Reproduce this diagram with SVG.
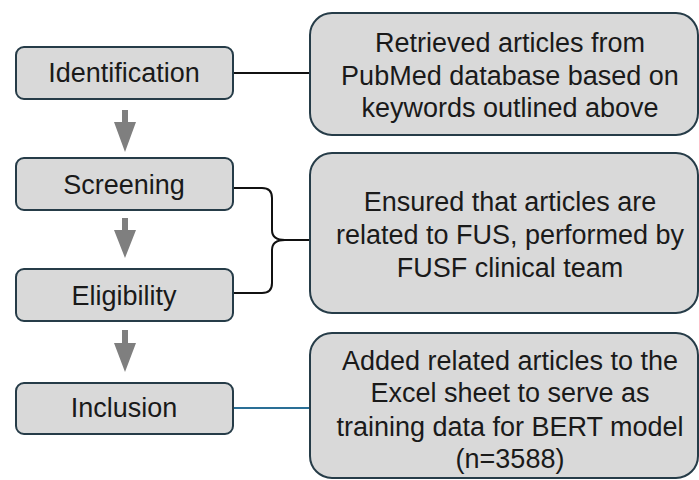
<svg xmlns="http://www.w3.org/2000/svg" width="699" height="480" viewBox="0 0 699 480">
<style>
.box{fill:#d9d9d9;stroke:#263c48;stroke-width:2}
.t{font-family:"Liberation Sans",Arial,sans-serif;font-size:27px;fill:#1a1a1a;text-anchor:middle}
.arr{fill:#7f7f7f}
.c{fill:none;stroke-width:2}
</style>
<rect width="699" height="480" fill="#ffffff"/>
<g id="connectors">
<path class="c" stroke="#111" d="M233,73 H310"/>
<path class="c" stroke="#111" d="M233,188 H262 Q272,188 272,198 V230 Q272,240 285,240 H310"/>
<path class="c" stroke="#111" d="M233,293 H262 Q272,293 272,283 V250 Q272,240 285,240"/>
<path class="c" stroke="#2a6f96" d="M233,408 H310"/>
<polygon class="arr" points="122,110 128,110 128,122 136,122 125,152 114,122 122,122"/>
<polygon class="arr" points="122,218 128,218 128,230 136,230 125,258 114,230 122,230"/>
<polygon class="arr" points="122,330 128,330 128,343 136,343 125,372 114,343 122,343"/>
</g>
<g id="identification">
<rect class="box" x="16" y="47" width="217" height="52" rx="8"/>
<text class="t" x="124" y="82">Identification</text>
</g>
<g id="screening">
<rect class="box" x="16" y="158" width="217" height="52" rx="8"/>
<text class="t" x="124" y="194">Screening</text>
</g>
<g id="eligibility">
<rect class="box" x="16" y="269" width="217" height="52" rx="8"/>
<text class="t" x="124" y="305">Eligibility</text>
</g>
<g id="inclusion">
<rect class="box" x="16" y="383" width="217" height="51" rx="8"/>
<text class="t" x="124" y="417">Inclusion</text>
</g>
<g id="retrieved">
<rect class="box" x="310" y="13" width="388" height="122" rx="22"/>
<text class="t" x="510" y="52">Retrieved articles from</text>
<text class="t" x="510" y="85">PubMed database based on</text>
<text class="t" x="510" y="117">keywords outlined above</text>
</g>
<g id="ensured">
<rect class="box" x="310" y="153" width="388" height="160" rx="22"/>
<text class="t" x="510" y="211">Ensured that articles are</text>
<text class="t" x="510" y="244">related to FUS, performed by</text>
<text class="t" x="510" y="277">FUSF clinical team</text>
</g>
<g id="added">
<rect class="box" x="310" y="333" width="388" height="145" rx="22"/>
<text class="t" x="510" y="370">Added related articles to the</text>
<text class="t" x="510" y="402">Excel sheet to serve as</text>
<text class="t" x="510" y="436">training data for BERT model</text>
<text class="t" x="510" y="468">(n=3588)</text>
</g>
</svg>
